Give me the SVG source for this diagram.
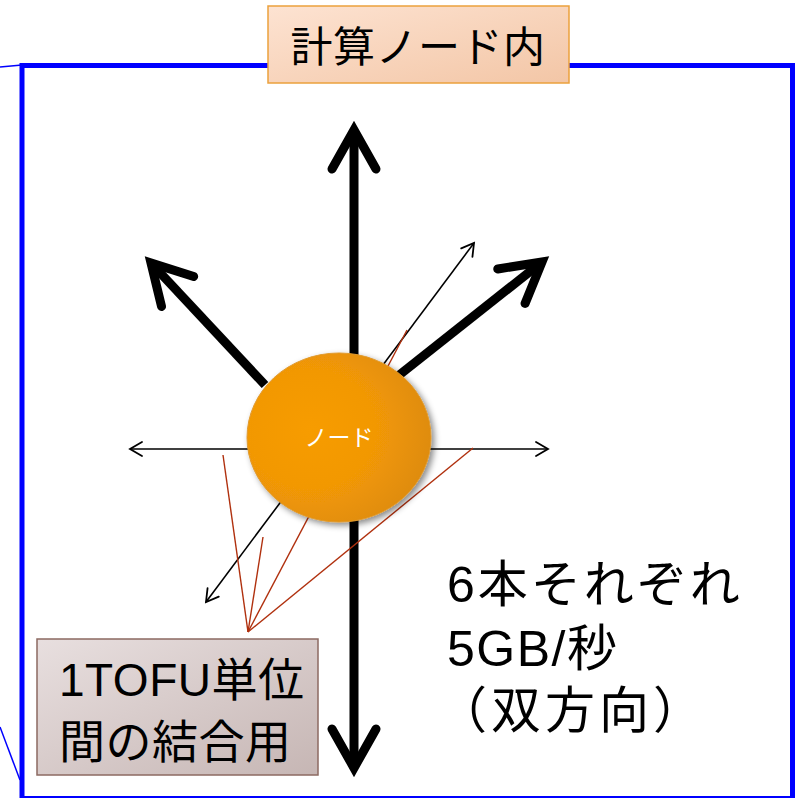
<svg xmlns="http://www.w3.org/2000/svg" width="798" height="798" viewBox="0 0 798 798">
<style>
.thick{stroke:#000;stroke-width:9;fill:none}
.thin{stroke:#000;stroke-width:1.6;fill:none}
.red{stroke:#b0300e;stroke-width:1.4;fill:none}
.blue{stroke:#0000ff;fill:none}
.jp{font-family:"Liberation Sans","Noto Sans CJK JP",sans-serif;fill:#000}
</style>
<defs>
<marker id="ah" viewBox="0 0 64 64" markerUnits="userSpaceOnUse" markerWidth="64" markerHeight="64" refX="50" refY="32" orient="auto-start-reverse">
<path d="M11 10 L50 32 L11 54" fill="none" stroke="#000" stroke-width="9" stroke-linecap="round" stroke-linejoin="miter"/>
</marker>
<marker id="ahs" viewBox="0 0 20 20" markerUnits="userSpaceOnUse" markerWidth="20" markerHeight="20" refX="16" refY="10" orient="auto-start-reverse">
<path d="M4 3 L16 10 L4 17" fill="none" stroke="#000" stroke-width="1.8" stroke-linecap="round"/>
</marker>
<linearGradient id="gTitle" x1="0" y1="0" x2="1" y2="1">
<stop offset="0" stop-color="#fde3d2"/>
<stop offset="1" stop-color="#f3c6a6"/>
</linearGradient>
<linearGradient id="gCall" x1="0" y1="0" x2="1" y2="1">
<stop offset="0" stop-color="#e8dfdf"/>
<stop offset="1" stop-color="#c6b6b4"/>
</linearGradient>
<radialGradient id="gNode" cx="0.35" cy="0.45" r="0.7">
<stop offset="0" stop-color="#f79c04"/>
<stop offset="0.5" stop-color="#f29806"/>
<stop offset="1" stop-color="#dc8a0a"/>
</radialGradient>
<filter id="sh" x="-20%" y="-20%" width="140%" height="140%">
<feDropShadow dx="3" dy="3" stdDeviation="3" flood-color="#000" flood-opacity="0.45"/>
</filter>
</defs>

<g id="frame">
<rect x="22" y="65.5" width="770.5" height="733" class="blue" stroke-width="5"/>
<line x1="0" y1="67" x2="22" y2="65" class="blue" stroke-width="1.5"/>
<line x1="0" y1="727" x2="20" y2="780" class="blue" stroke-width="1.5"/>
</g>

<g id="connectors">
<line x1="354" y1="768" x2="354" y2="130" class="thick" marker-start="url(#ah)" marker-end="url(#ah)"/>
<line x1="265" y1="385" x2="151" y2="263" class="thick" marker-end="url(#ah)"/>
<line x1="398" y1="376" x2="542" y2="262" class="thick" marker-end="url(#ah)"/>
<line x1="130" y1="449" x2="548" y2="449" class="thin" marker-start="url(#ahs)" marker-end="url(#ahs)"/>
<line x1="206" y1="602" x2="474" y2="243" class="thin" marker-start="url(#ahs)" marker-end="url(#ahs)"/>
<line x1="248" y1="632" x2="223" y2="455" class="red"/>
<line x1="248" y1="632" x2="263" y2="537" class="red"/>
<line x1="248" y1="632" x2="407" y2="330" class="red"/>
<line x1="248" y1="632" x2="473" y2="448" class="red"/>
</g>

<g id="node">
<ellipse cx="339" cy="437.5" rx="92" ry="84.5" fill="url(#gNode)" stroke="#e09a30" stroke-width="1" filter="url(#sh)"/>
<text x="339" y="446" text-anchor="middle" font-size="23" fill="#fff" font-family="'Liberation Sans','Noto Sans CJK JP',sans-serif">ノード</text>
</g>

<g id="title">
<rect x="268" y="6" width="301" height="77" fill="url(#gTitle)" stroke="#eba13c" stroke-width="1.5"/>
<text x="418" y="62" text-anchor="middle" class="jp" font-size="42" letter-spacing="0.5">計算ノード内</text>
</g>

<g id="callout">
<rect x="37" y="639" width="281" height="136" fill="url(#gCall)" stroke="#8c6a62" stroke-width="1.5"/>
<text x="59" y="696" class="jp" font-size="46" letter-spacing="0.5">1TOFU単位</text>
<text x="59" y="758" class="jp" font-size="46" letter-spacing="0.5">間の結合用</text>
</g>

<g id="label">
<text x="447" y="602" class="jp" font-size="50" letter-spacing="3">6本それぞれ</text>
<text x="447" y="666" class="jp" font-size="50" letter-spacing="1.5">5GB/秒</text>
<text x="437" y="728" class="jp" font-size="50" letter-spacing="4">（双方向）</text>
</g>
</svg>
